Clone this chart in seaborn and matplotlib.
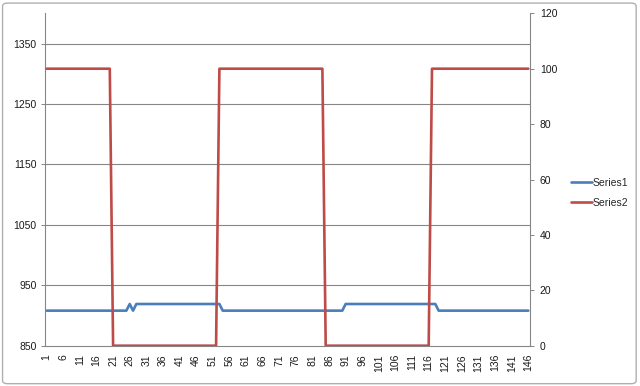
import numpy as np
import pandas as pd
import matplotlib
matplotlib.use("Agg")
import matplotlib.pyplot as plt
import seaborn as sns
from matplotlib.patches import FancyBboxPatch
from matplotlib.ticker import FixedLocator, MultipleLocator
from matplotlib.lines import Line2D

# ---- data ----
categories = list(range(1, 147))
# Series1: low / high levels on the primary axis
s1_low = 908
s1_high = 919
series1 = ([s1_low] * 25 + [s1_high] + [s1_low] + [s1_high] * 26 +
           [s1_low] * 37 + [s1_high] * 28 + [s1_low] * 28)
# Series2: square wave on the secondary axis
series2 = ([100] * 20 + [0] * 32 + [100] * 32 + [0] * 32 + [100] * 30)
left_ticks = [850, 950, 1050, 1150, 1250, 1350]
right_ticks = [0, 20, 40, 60, 80, 100, 120]
x_tick_labels = list(range(1, 147, 5))

df = pd.DataFrame({"cat": categories, "Series1": series1, "Series2": series2})

sns.set_style("white")
plt.rcParams["font.family"] = ["Liberation Sans", "DejaVu Sans"]
FS = 7.5
axis_col = "#868686"
text_col = "#1a1a1a"

fig = plt.figure(figsize=(6.4, 3.86), dpi=100)
ax = fig.add_axes([45 / 640, 1 - 345.7 / 386, (530 - 45) / 640, (345.7 - 13.3) / 386])
ax2 = ax.twinx()

sns.lineplot(data=df, x="cat", y="Series1", ax=ax, color="#4A7EBB", linewidth=1.9,
             legend=False, zorder=3)
sns.lineplot(data=df, x="cat", y="Series2", ax=ax2, color="#BE4B48", linewidth=1.9,
             legend=False, zorder=3)

ax.set_xlim(0.5, 146.5)
ax.set_ylim(850, 1400)
ax2.set_ylim(0, 120)

ax.yaxis.set_major_locator(FixedLocator(left_ticks))
ax2.yaxis.set_major_locator(FixedLocator(right_ticks))
ax.set_xticks(x_tick_labels)
ax.set_xticklabels([str(v) for v in x_tick_labels], rotation=90, fontsize=FS, color=text_col)
ax.xaxis.set_minor_locator(MultipleLocator(1, offset=0.5))
ax.tick_params(axis="x", which="major", length=0, pad=6)
ax.tick_params(axis="x", which="minor", length=3, color=axis_col, width=0.7, direction="out")
ax.tick_params(axis="y", length=3, color=axis_col, width=0.7, labelsize=FS,
               labelcolor=text_col, direction="out", pad=3)
ax2.tick_params(axis="y", length=3, color=axis_col, width=0.7, labelsize=FS,
                labelcolor=text_col, direction="out", pad=4)

ax.set_xlabel("")
ax.set_ylabel("")
ax2.set_ylabel("")

ax.grid(False)
ax2.grid(False)
for v in left_ticks[1:]:
    ax.axhline(v, color=axis_col, linewidth=0.8, zorder=1)

for a in (ax, ax2):
    a.spines["top"].set_visible(False)
    for s in ("left", "right", "bottom"):
        a.spines[s].set_color(axis_col)
        a.spines[s].set_linewidth(0.8)
ax.spines["right"].set_visible(False)
ax2.spines["left"].set_visible(False)
ax2.spines["bottom"].set_visible(False)

handles = [Line2D([], [], color="#4A7EBB", linewidth=1.9),
           Line2D([], [], color="#BE4B48", linewidth=1.9)]
fig.legend(handles, ["Series1", "Series2"], loc="center left",
           bbox_to_anchor=(571 / 640, 1 - 192.7 / 386), frameon=False,
           fontsize=FS, handlelength=2.0, handletextpad=0.05,
           labelspacing=0.95, borderaxespad=0, borderpad=0)

border = FancyBboxPatch((0.004, 0.006), 0.990, 0.986,
                        boxstyle="round,pad=0,rounding_size=0.008",
                        transform=fig.transFigure, fill=False,
                        edgecolor="#b0b0b0", linewidth=1.0)
fig.patches.append(border)

fig.savefig("out.png", dpi=100)
